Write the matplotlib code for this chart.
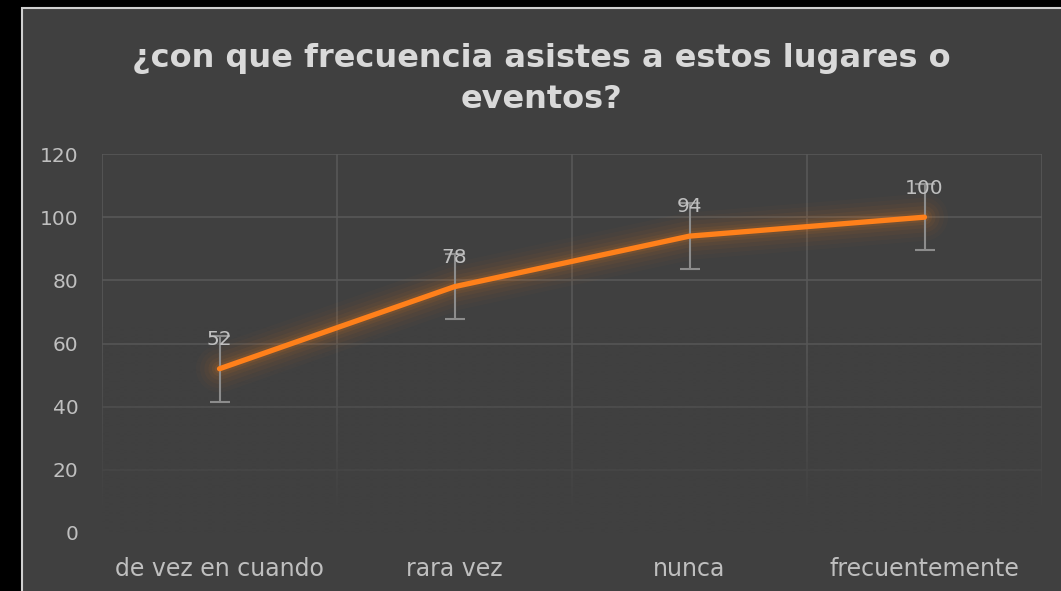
import numpy as np
import matplotlib.pyplot as plt
from matplotlib.patches import Rectangle

categorias = ["de vez en cuando", "rara vez", "nunca", "frecuentemente"]
valores = [52, 78, 94, 100]
error = [10.4, 10.4, 10.4, 10.4]
titulo = "¿con que frecuencia asistes a estos lugares o\neventos?"

fondo = "#404040"
naranja = "#ff801a"
gris_texte = "#bfbfbf"

plt.rcParams["font.family"] = ["DejaVu Sans"]

fig = plt.figure(figsize=(10.61, 5.91), dpi=100, facecolor="black")

# cadre gris du graphique
fig.patches.append(
    Rectangle((22 / 1061, -0.01), 1 - 22 / 1061 + 0.01, 1 - 8 / 591 + 0.01,
              transform=fig.transFigure, facecolor=fondo,
              edgecolor="#d0d0d0", linewidth=1.5, zorder=-10)
)

ax = fig.add_axes([102 / 1061, (591 - 533) / 591, 940 / 1061, 379 / 591])
ax.set_facecolor(fondo)
ax.patch.set_alpha(0)
x = np.arange(len(categorias))

ax.set_xticks(x)
ax.set_xticklabels(categorias)
ax.set_xticks(np.arange(-0.5, 4, 1), minor=True)
ax.set_yticks(np.arange(0, 121, 20))

for s in ax.spines.values():
    s.set_visible(False)
ax.tick_params(which="both", length=0)
ax.tick_params(axis="y", labelcolor=gris_texte, labelsize=14.5, pad=17)
ax.tick_params(axis="x", labelcolor=gris_texte, labelsize=17, pad=17)

ax.grid(axis="y", which="major", color="#585858", linewidth=1.2, zorder=1)
ax.grid(axis="x", which="minor", color="#585858", linewidth=1.2, zorder=1)
ax.grid(axis="x", which="major", visible=False)
ax.set_axisbelow(True)

# degradé qui efface la grille vers le bas
grad = np.zeros((100, 1, 4))
grad[:, 0, :3] = np.array([0x40, 0x40, 0x40]) / 255
grad[:, 0, 3] = np.clip((np.linspace(1, 0, 100) - 0.45) / 0.5, 0, 1) ** 1.2
ax.imshow(grad, extent=(-0.5, 3.5, 0, 120), aspect="auto", zorder=2,
          origin="lower", interpolation="bilinear")

# halo
for lw, a in [(34, 0.025), (28, 0.03), (22, 0.04), (16, 0.05), (11, 0.07), (7, 0.1)]:
    ax.plot(x, valores, color=naranja, linewidth=lw, alpha=a,
            solid_capstyle="round", zorder=3)

ax.errorbar(x, valores, yerr=error, fmt="none", ecolor="#8c8c8c",
            elinewidth=1.5, capsize=7, capthick=1.5, zorder=4)
ax.plot(x, valores, color=naranja, linewidth=3.8, zorder=5,
        solid_capstyle="round")

for xi, v in zip(x, valores):
    ax.annotate(str(v), (xi, v), xytext=(0, 21), textcoords="offset points",
                ha="center", va="center", color=gris_texte, fontsize=14.5,
                zorder=6)

ax.set_xlim(-0.5, 3.5)
ax.set_ylim(0, 120)

fig.text(0.51, 1 - 79 / 591, titulo, ha="center", va="center",
         color="#d9d9d9", fontsize=23, fontweight="bold", linespacing=1.4)

fig.savefig("out.png", dpi=100, facecolor="black")
